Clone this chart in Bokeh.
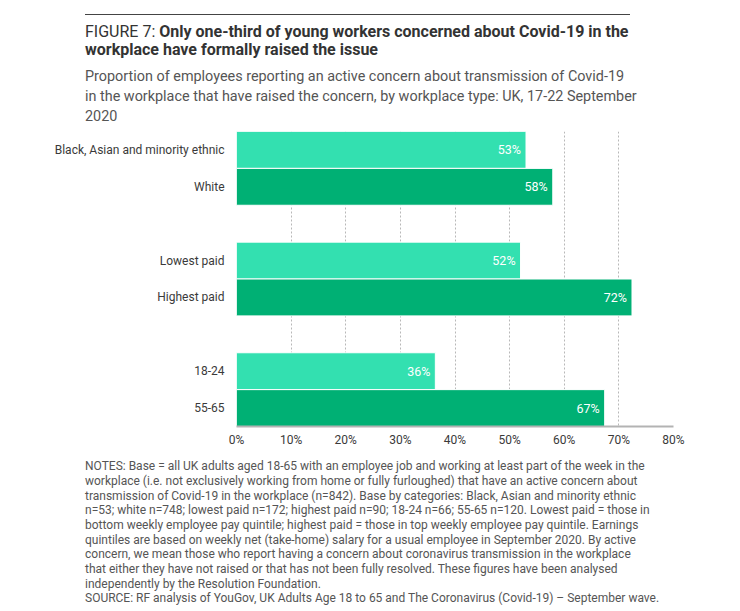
from bokeh.plotting import figure
from bokeh.models import Range1d, FixedTicker, PrintfTickFormatter, ColumnDataSource, Div
from bokeh.layouts import column
from bokeh.core.properties import value
from bokeh.embed import file_html
from bokeh.resources import INLINE

# ---- data ----
categories = ["Black, Asian and minority ethnic", "White",
              "Lowest paid", "Highest paid",
              "18-24", "55-65"]
group_index = [0, 0, 1, 1, 2, 2]
shares = [53.0, 57.9, 52.0, 72.4, 36.4, 67.4]
value_labels = ["53%", "58%", "52%", "72%", "36%", "67%"]
x_ticks = [0, 10, 20, 30, 40, 50, 60, 70, 80]

title_light = "FIGURE 7:"
title_bold_1 = "Only one-third of young workers concerned about Covid-19 in the"
title_bold_2 = "workplace have formally raised the issue"
subtitle_lines = [
    "Proportion of employees reporting an active concern about transmission of Covid-19",
    "in the workplace that have raised the concern, by workplace type: UK, 17-22 September",
    "2020",
]
notes_lines = [
    "NOTES: Base = all UK adults aged 18-65 with an employee job and working at least part of the week in the",
    "workplace (i.e. not exclusively working from home or fully furloughed) that have an active concern about",
    "transmission of Covid-19 in the workplace (n=842). Base by categories: Black, Asian and minority ethnic",
    "n=53; white n=748; lowest paid n=172; highest paid n=90; 18-24 n=66; 55-65 n=120. Lowest paid = those in",
    "bottom weekly employee pay quintile; highest paid = those in top weekly employee pay quintile. Earnings",
    "quintiles are based on weekly net (take-home) salary for a usual employee in September 2020. By active",
    "concern, we mean those who report having a concern about coronavirus transmission in the workplace",
    "that either they have not raised or that has not been fully resolved. These figures have been analysed",
    "independently by the Resolution Foundation.",
    "SOURCE: RF analysis of YouGov, UK Adults Age 18 to 65 and The Coronavirus (Covid-19) \u2013 September wave.",
]

LIGHT = "#33e0b0"
DARK = "#00b074"
TXT = "#3a3a3a"
FONT = "Roboto"

W = 730
TOP_H = 127          # header block height
FT, FH = 4, 295      # frame offset inside the figure, frame height
FL, FW = 236, 437
FIG_H = FT + FH + 29
NOTES_H = 150

# slot positions: two bars per group, one empty slot between groups
centers = [g * 3 + (i % 2) + 0.5 for i, g in enumerate(group_index)]
colors = [LIGHT if i % 2 == 0 else DARK for i in range(len(categories))]
n_slots = max(group_index) * 3 + 2

src = ColumnDataSource(dict(y=centers, v=shares, lab=value_labels, c=colors))

p = figure(width=W, height=FIG_H, frame_width=FW, frame_height=FH,
           min_border_left=FL, min_border_right=W - FL - FW,
           min_border_top=FT, min_border_bottom=FIG_H - FT - FH,
           x_range=Range1d(0, 80), y_range=Range1d(n_slots, 0),
           output_backend="svg", toolbar_location=None, margin=0)
p.outline_line_color = None
p.background_fill_color = "white"
p.border_fill_color = "white"

p.hbar(y="y", right="v", left=0, height=1, source=src, fill_color="c",
       line_color="white", line_width=1)

p.text(x="v", y="y", text="lab", source=src, x_offset=-5,
       text_align="right", text_baseline="middle", text_color="white",
       text_font=value(FONT), text_font_size="12.5px")

# axes
p.xaxis.ticker = FixedTicker(ticks=x_ticks)
p.xaxis.formatter = PrintfTickFormatter(format="%d%%")
p.xaxis.axis_line_color = "#b3b3b3"
p.xaxis.axis_line_width = 2
p.xaxis.major_tick_line_color = None
p.xaxis.minor_tick_line_color = None
p.xaxis.major_tick_out = 0
p.xaxis.major_label_standoff = 6
p.xaxis.major_label_text_font = FONT
p.xaxis.major_label_text_font_size = "12px"
p.xaxis.major_label_text_color = TXT

p.yaxis.ticker = FixedTicker(ticks=centers)
p.yaxis.major_label_overrides = {c: lab for c, lab in zip(centers, categories)}
p.yaxis.axis_line_color = None
p.yaxis.major_tick_line_color = None
p.yaxis.minor_tick_line_color = None
p.yaxis.major_tick_out = 0
p.yaxis.major_label_standoff = 12
p.yaxis.major_label_text_font = FONT
p.yaxis.major_label_text_font_size = "12px"
p.yaxis.major_label_text_color = TXT

p.xgrid.grid_line_color = "#b8b8b8"
p.xgrid.grid_line_dash = "2 2"
p.xgrid.grid_line_width = 1
p.ygrid.grid_line_color = None

# ---- header (rule, title, subtitle) ----
def line_div(text, left, center, size, lh, color, weight="normal"):
    top = center - lh / 2
    return (f'<div style="position:absolute;left:{left}px;top:{top}px;white-space:nowrap;'
            f'font-size:{size};line-height:{lh}px;color:{color};font-weight:{weight};">{text}</div>')

head = ['<div style="position:absolute;left:85px;top:13.5px;width:545px;height:1px;background:#444;"></div>']
head.append(line_div(f'{title_light} <b style="font-weight:700">{title_bold_1}</b>', 85, 32, "16px", 18, "#333333"))
head.append(line_div(title_bold_2, 85, 50, "16px", 18, "#333333", weight="700"))
for i, line in enumerate(subtitle_lines):
    head.append(line_div(line, 85, 77 + 20 * i, "14.4px", 20, "#555555"))
header = Div(text=f'<div style="position:relative;width:{W}px;height:{TOP_H}px;font-family:{FONT};overflow:visible;">'
             + "".join(head) + "</div>", width=W, height=TOP_H, margin=0)

# ---- notes ----
notes_top = TOP_H + FIG_H
nl = []
for i, line in enumerate(notes_lines):
    nl.append(line_div(line, 85, 466.5 + 14.7 * i - notes_top, "12px", 14.7, "#555555"))
notes = Div(text=f'<div style="position:relative;width:{W}px;height:{NOTES_H}px;font-family:{FONT};">'
            + "".join(nl) + "</div>", width=W, height=NOTES_H, margin=0)

layout = column(header, p, notes, spacing=0, margin=0)

open("out.html", "w").write(file_html(layout, INLINE))
